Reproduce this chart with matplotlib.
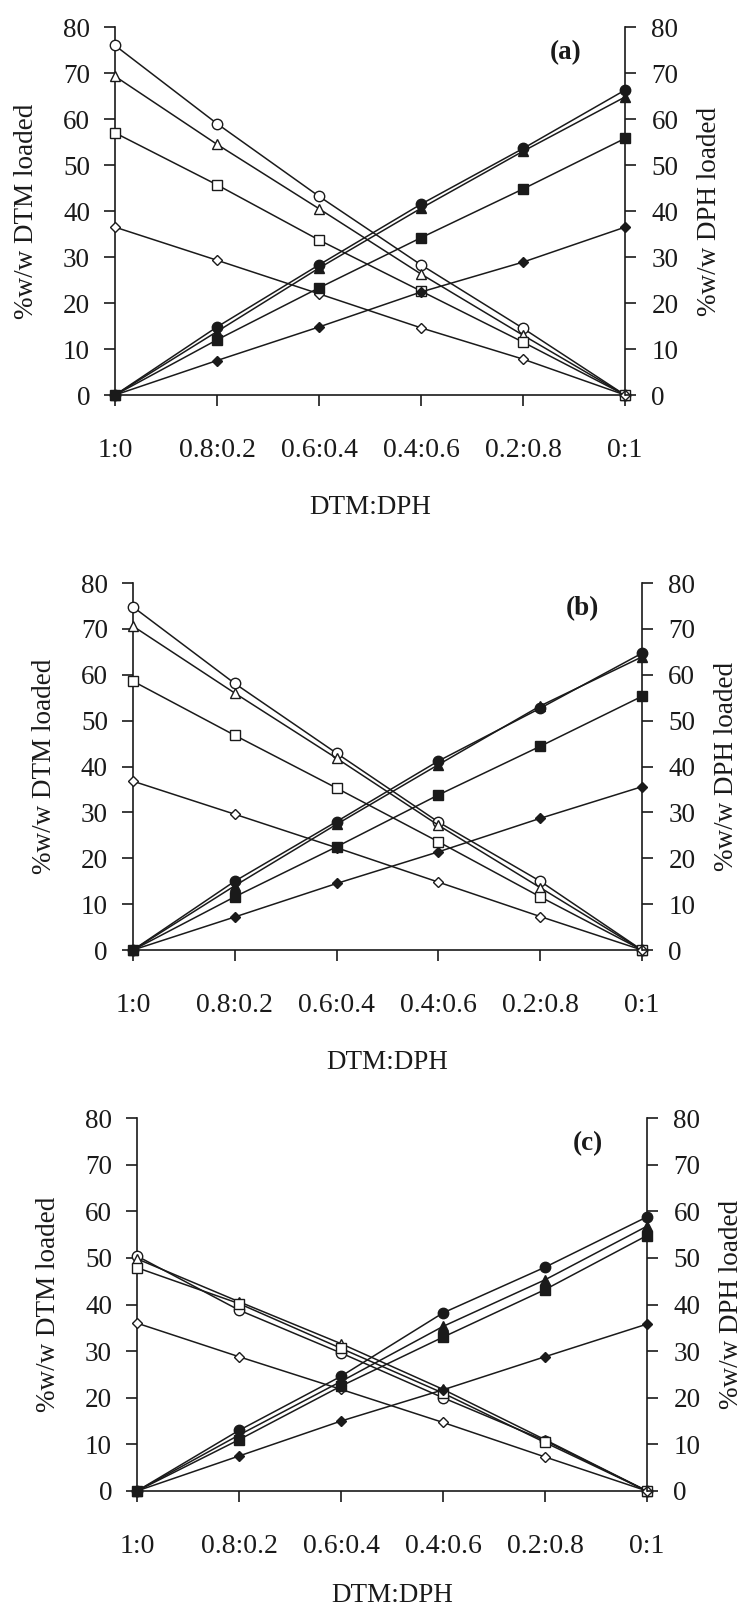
import matplotlib
matplotlib.use("Agg")
from matplotlib import pyplot as plt

plt.rcParams["font.family"] = ["Liberation Serif", "DejaVu Serif"]

ratios = ["1:0", "0.8:0.2", "0.6:0.4", "0.4:0.6", "0.2:0.8", "0:1"]
xpos = [0, 1, 2, 3, 4, 5]
yticks = [0, 10, 20, 30, 40, 50, 60, 70, 80]

# %w/w DTM loaded (open symbols, left axis)
dtm_a_circle = [76.0, 59.0, 43.2, 28.3, 14.5, 0]
dtm_a_triangle = [69.3, 54.5, 40.5, 26.3, 13.0, 0]
dtm_a_square = [57.0, 45.7, 33.7, 22.6, 11.5, 0]
dtm_a_diamond = [36.5, 29.3, 22.0, 14.6, 7.8, 0]

dtm_b_circle = [74.8, 58.1, 42.9, 27.9, 15.0, 0]
dtm_b_triangle = [70.6, 56.0, 41.8, 27.2, 13.6, 0]
dtm_b_square = [58.6, 46.8, 35.3, 23.6, 11.6, 0]
dtm_b_diamond = [36.8, 29.6, 22.3, 14.8, 7.3, 0]

dtm_c_circle = [50.4, 38.8, 29.6, 20.0, 10.8, 0]
dtm_c_triangle = [49.8, 40.6, 31.6, 21.8, 11.0, 0]
dtm_c_square = [47.9, 40.2, 30.6, 21.0, 10.4, 0]
dtm_c_diamond = [36.0, 28.8, 21.8, 14.7, 7.3, 0]

# %w/w DPH loaded (filled symbols, right axis)
dph_a_circle = [0, 14.8, 28.3, 41.5, 53.6, 66.3]
dph_a_triangle = [0, 13.8, 27.6, 40.6, 53.0, 64.8]
dph_a_square = [0, 12.0, 23.3, 34.2, 44.8, 55.8]
dph_a_diamond = [0, 7.5, 14.8, 22.4, 28.9, 36.5]

dph_b_circle = [0, 15.0, 28.0, 41.2, 52.7, 64.7]
dph_b_triangle = [0, 14.0, 27.4, 40.4, 53.2, 63.9]
dph_b_square = [0, 11.6, 22.5, 33.8, 44.4, 55.3]
dph_b_diamond = [0, 7.2, 14.5, 21.4, 28.7, 35.6]

dph_c_circle = [0, 13.0, 24.6, 38.2, 48.0, 58.8]
dph_c_triangle = [0, 12.0, 23.5, 35.3, 45.3, 56.8]
dph_c_square = [0, 11.0, 22.5, 33.0, 43.2, 54.8]
dph_c_diamond = [0, 7.5, 15.0, 21.7, 28.8, 35.8]

panels = [
    ("(a)", [dtm_a_circle, dtm_a_triangle, dtm_a_square, dtm_a_diamond],
     [dph_a_circle, dph_a_triangle, dph_a_square, dph_a_diamond]),
    ("(b)", [dtm_b_circle, dtm_b_triangle, dtm_b_square, dtm_b_diamond],
     [dph_b_circle, dph_b_triangle, dph_b_square, dph_b_diamond]),
    ("(c)", [dtm_c_circle, dtm_c_triangle, dtm_c_square, dtm_c_diamond],
     [dph_c_circle, dph_c_triangle, dph_c_square, dph_c_diamond]),
]

markers = ["o", "^", "s", "D"]
msizes = [7.5, 7.5, 7, 5.5]

boxes = [
    [0.1544, 0.7548, 0.6846, 0.2284],
    [0.1785, 0.4103, 0.6832, 0.2278],
    [0.1839, 0.0745, 0.6846, 0.2315],
]
xlabel_pads = [23, 23, 17]

ink = "#1a1a1a"
fig = plt.figure(figsize=(7.45, 16.11), dpi=100)
fs = 19.5

for (label, dtm, dph), box, lp in zip(panels, boxes, xlabel_pads):
    ax = fig.add_axes(box)
    ax2 = ax.twinx()
    for series, m, ms in zip(dtm, markers, msizes):
        ax.plot(xpos, series, "-", color=ink, lw=1.1, marker=m, ms=ms,
                mfc="white", mec=ink, mew=1.0, clip_on=False, zorder=3)
    for series, m, ms in zip(dph, markers, msizes):
        ax2.plot(xpos, series, "-", color=ink, lw=1.1, marker=m, ms=ms,
                 mfc=ink, mec=ink, mew=1.0, clip_on=False, zorder=3)

    for a in (ax, ax2):
        a.set_xlim(0, 5)
        a.set_ylim(0, 80)
        a.set_yticks(yticks)
        a.spines["top"].set_visible(False)
        for s in a.spines.values():
            s.set_linewidth(1.2)
            s.set_color(ink)
    ax.spines["right"].set_visible(False)
    ax2.spines["left"].set_visible(False)
    ax2.spines["bottom"].set_visible(False)

    ax.set_xticks(xpos)
    ax.set_xticklabels(ratios)
    ax.tick_params(axis="x", direction="out", length=8, width=1.2, pad=23,
                   labelsize=20, colors=ink)
    ax.tick_params(axis="y", direction="out", length=8, width=1.2, pad=10,
                   labelsize=fs, colors=ink)
    ax2.tick_params(axis="y", direction="out", length=8, width=1.2, pad=11,
                    labelsize=fs, colors=ink)

    ax.set_ylabel("%w/w DTM loaded", fontsize=fs, labelpad=17, color=ink)
    ax2.set_ylabel("%w/w DPH loaded", fontsize=fs, labelpad=13, color=ink)
    ax.set_xlabel("DTM:DPH", fontsize=fs, labelpad=lp, color=ink)
    ax.text(4.42, 74.5, label, fontsize=fs, fontweight="bold",
            ha="center", va="center", color=ink)

fig.savefig("out.png", dpi=100)
